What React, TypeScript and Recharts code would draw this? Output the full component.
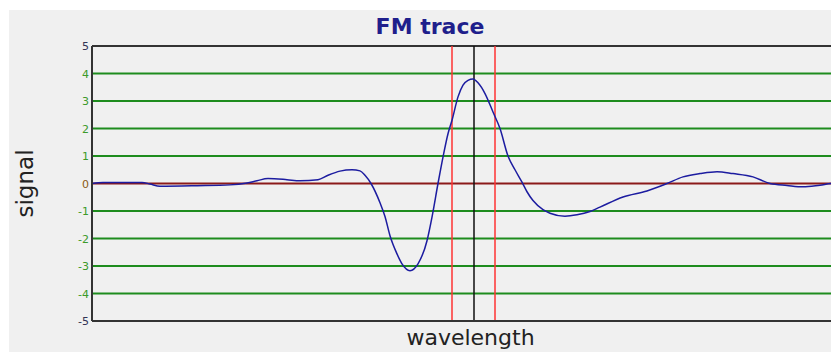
import { LineChart, Line, XAxis, YAxis, ReferenceLine } from "recharts"

// wavelength position (arbitrary units, no tick labels on the axis)
const WAVE_X = [
  0, 11, 50, 58, 68, 105, 138, 155, 165, 176, 195, 208, 226, 236, 248, 260, 268, 273, 279,
  288, 293, 298, 305, 310, 318, 326, 335, 340, 346, 351, 356, 360, 366, 371, 376, 381, 386,
  393, 401, 408, 416, 423, 430, 435, 441, 451, 458, 473, 485, 498, 508, 531, 555, 575, 591,
  608, 625, 641, 661, 678, 695, 711, 728, 741, 747,
]
const SIGNAL_Y = [
  0.0, 0.04, 0.04, -0.02, -0.1, -0.08, -0.05, 0.02, 0.1, 0.18, 0.14, 0.1, 0.14, 0.3, 0.45,
  0.5, 0.46, 0.3, 0.0, -0.7, -1.2, -1.9, -2.56, -2.92, -3.17, -2.92, -2.08, -1.22, 0.0,
  0.96, 1.81, 2.3, 3.15, 3.58, 3.75, 3.8, 3.66, 3.27, 2.6, 2.0, 1.0, 0.5, 0.05, -0.3,
  -0.62, -0.95, -1.08, -1.19, -1.14, -1.02, -0.86, -0.49, -0.27, 0.0, 0.24, 0.36, 0.43, 0.36,
  0.24, 0.0, -0.07, -0.12, -0.06, 0.0, 0.0,
]
const Y_TICKS = [-5, -4, -3, -2, -1, 0, 1, 2, 3, 4, 5]
const MARKER_CENTER = 382
const MARKER_BOUNDS = [360, 403]

const data = WAVE_X.map((x, i) => ({ x, signal: SIGNAL_Y[i] }))

const FONT = "'DejaVu Sans', Verdana, sans-serif"

function levelColor(v: number) {
  if (v === 0) return "#8b1a1a"
  if (Math.abs(v) === 5) return "#333333"
  return "#1e8c1e"
}

const YTick = (props: any) => {
  const { x, y, payload } = props
  const v = payload.value as number
  return (
    <text
      x={x}
      y={y}
      dy={4}
      textAnchor="end"
      fontSize={11}
      fontFamily={FONT}
      fill={v === 0 ? "#8a5a10" : Math.abs(v) === 5 ? "#333355" : "#3c9a2a"}
    >
      {v}
    </text>
  )
}

export default function App() {
  return (
    <div style={{ marginLeft: 1, marginTop: 2, width: 830, height: 342, background: "#f0f0f0", position: "relative" }}>
      <div
        style={{
          position: "absolute",
          top: 4,
          left: 0,
          width: 842,
          textAlign: "center",
          fontFamily: FONT,
          fontWeight: "bold",
          fontSize: 22,
          color: "#1f1f8c",
        }}
      >
        FM trace
      </div>
      <LineChart width={830} height={342} data={data} margin={{ top: 36, right: 0, bottom: 0, left: 0 }}>
        <XAxis
          type="number"
          dataKey="x"
          domain={[0, 747]}
          tick={false}
          tickLine={false}
          height={31}
          axisLine={{ stroke: "#333", strokeWidth: 2 }}
          label={{ value: "wavelength", position: "insideBottom", offset: 7, dx: 5, fontSize: 22, fontFamily: FONT, fill: "#222" }}
        />
        <YAxis
          type="number"
          domain={[-5, 5]}
          ticks={Y_TICKS}
          interval={0}
          width={83}
          tickSize={0}
          tickMargin={3}
          tickLine={false}
          axisLine={{ stroke: "#333", strokeWidth: 2 }}
          tick={<YTick />}
          label={{ value: "signal", angle: -90, position: "center", dx: -26, fontSize: 23, fontFamily: FONT, fill: "#222" }}
        />
        {Y_TICKS.filter((v) => v !== -5).map((v) => (
          <ReferenceLine key={v} y={v} stroke={levelColor(v)} strokeWidth={2} />
        ))}
        {MARKER_BOUNDS.map((v) => (
          <ReferenceLine key={v} x={v} stroke="#ff3333" strokeWidth={1.5} />
        ))}
        <ReferenceLine x={MARKER_CENTER} stroke="#111" strokeWidth={1.5} />
        <Line
          type="monotone"
          dataKey="signal"
          stroke="#1c1ca0"
          strokeWidth={1.5}
          dot={false}
          isAnimationActive={false}
        />
      </LineChart>
    </div>
  )
}
